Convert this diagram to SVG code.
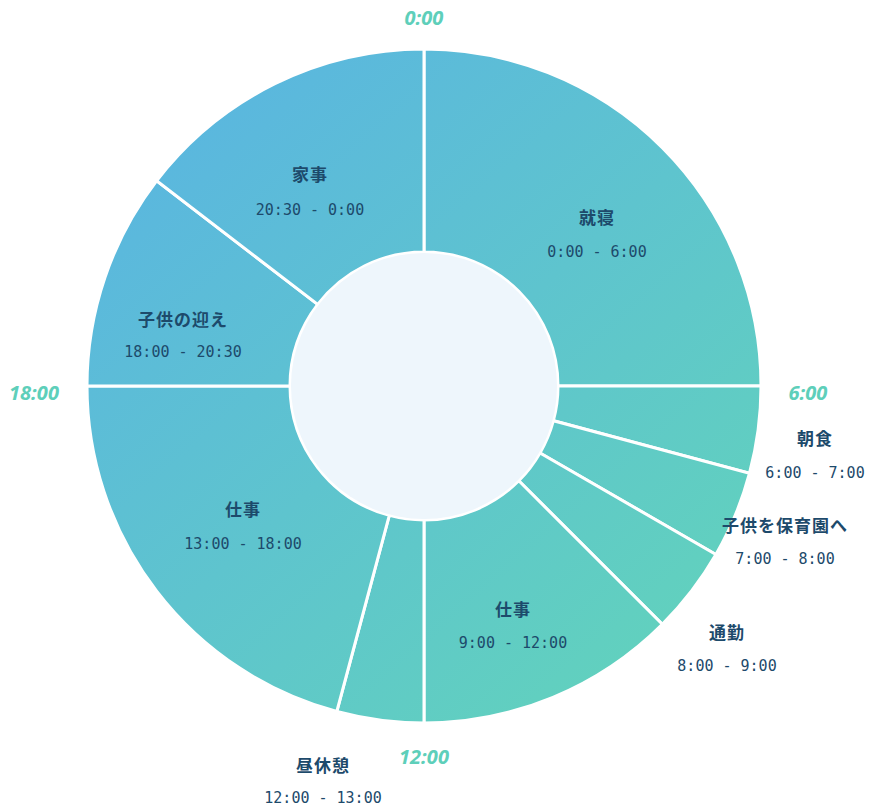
<svg xmlns="http://www.w3.org/2000/svg" width="872" height="809" viewBox="0 0 872 809">
<defs>
<linearGradient id="g" gradientUnits="userSpaceOnUse" x1="150" y1="80" x2="700" y2="700">
<stop offset="0" stop-color="#5ab5e1"/><stop offset="1" stop-color="#62d3bb"/>
</linearGradient>
<style>
.w{fill:url(#g);stroke:#fff;stroke-width:3}
.t{font-family:"Noto Sans CJK JP","Noto Sans",sans-serif;font-weight:bold;font-size:17px;fill:#1d4a6b;text-anchor:middle;letter-spacing:1px}
.s{font-family:"DejaVu Sans Mono","Noto Sans",monospace;font-size:15px;fill:#1d4a6b;text-anchor:middle}
.a{font-family:"Noto Sans","Liberation Sans",sans-serif;font-weight:bold;font-style:italic;font-size:20px;fill:#5ecfba;text-anchor:middle}
</style>
</defs>
<rect width="872" height="809" fill="#fff"/>
<g id="w1"><path class="w" d="M424,49 A337,337 0 0 1 761,386 L558,386 A134,134 0 0 0 424,252 Z"/><text class="t" x="597" y="224">就寝</text><text class="s" x="597" y="257">0:00 - 6:00</text></g>
<g id="w2"><path class="w" d="M761,386 A337,337 0 0 1 749.5,473.2 L553.4,420.7 A134,134 0 0 0 558,386 Z"/><text class="t" x="815" y="445">朝食</text><text class="s" x="815" y="478">6:00 - 7:00</text></g>
<g id="w3"><path class="w" d="M749.5,473.2 A337,337 0 0 1 715.9,554.5 L540,453 A134,134 0 0 0 553.4,420.7 Z"/><text class="t" x="785" y="532">子供を保育園へ</text><text class="s" x="785" y="564">7:00 - 8:00</text></g>
<g id="w4"><path class="w" d="M715.9,554.5 A337,337 0 0 1 662.3,624.3 L518.8,480.8 A134,134 0 0 0 540,453 Z"/><text class="t" x="727" y="639">通勤</text><text class="s" x="727" y="671">8:00 - 9:00</text></g>
<g id="w5"><path class="w" d="M662.3,624.3 A337,337 0 0 1 424,723 L424,520 A134,134 0 0 0 518.8,480.8 Z"/><text class="t" x="513" y="616">仕事</text><text class="s" x="513" y="648">9:00 - 12:00</text></g>
<g id="w6"><path class="w" d="M424,723 A337,337 0 0 1 336.8,711.5 L389.3,515.4 A134,134 0 0 0 424,520 Z"/><text class="t" x="323" y="772">昼休憩</text><text class="s" x="323" y="803">12:00 - 13:00</text></g>
<g id="w7"><path class="w" d="M336.8,711.5 A337,337 0 0 1 87,386 L290,386 A134,134 0 0 0 389.3,515.4 Z"/><text class="t" x="243" y="516">仕事</text><text class="s" x="243" y="549">13:00 - 18:00</text></g>
<g id="w8"><path class="w" d="M87,386 A337,337 0 0 1 156.6,180.8 L317.7,304.4 A134,134 0 0 0 290,386 Z"/><text class="t" x="183" y="326">子供の迎え</text><text class="s" x="183" y="357">18:00 - 20:30</text></g>
<g id="w9"><path class="w" d="M156.6,180.8 A337,337 0 0 1 424,49 L424,252 A134,134 0 0 0 317.7,304.4 Z"/><text class="t" x="310" y="181">家事</text><text class="s" x="310" y="215">20:30 - 0:00</text></g>
<circle id="hub" cx="424" cy="386" r="133" fill="#eef6fc"/>
<g id="axis"><text class="a" x="424" y="25">0:00</text><text class="a" x="808" y="400">6:00</text><text class="a" x="424" y="764">12:00</text><text class="a" x="34" y="400">18:00</text></g>
</svg>
